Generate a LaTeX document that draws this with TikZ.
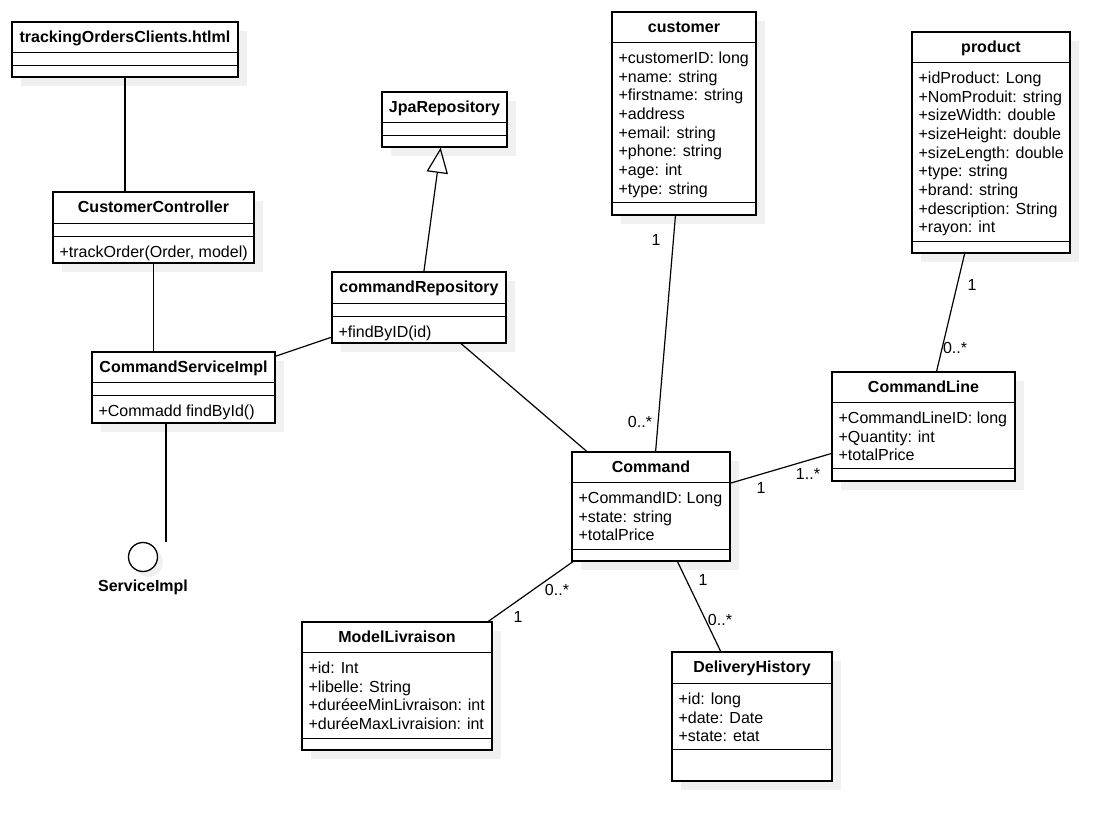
\documentclass[tikz,border=0pt]{standalone}
\usepackage{fontspec}
\setmainfont{Liberation Sans}
\usepackage{tikz}
\usetikzlibrary{positioning}
\usetikzlibrary{arrows.meta, shadows, calc}

\tikzset{
    classbox/.style={draw, fill=white, line width=1pt, inner sep=0pt,
        drop shadow={shadow xshift=6.5pt, shadow yshift=-6.5pt, opacity=1, fill=black!6}},
    classtitle/.style={font=\fontsize{12}{14}\selectfont\bfseries, inner sep=0pt},
    members/.style={font=\fontsize{12}{14}\selectfont, align=left, inner sep=0pt},
    mult/.style={font=\fontsize{12}{14}\selectfont, inner sep=0pt},
    assoc/.style={line width=0.9pt},
}

% name, left, top, width, title part, attribute part, operation part, title
\newcommand{\umlclass}[8]{%
    \node[classbox, minimum width=#4*0.75pt, minimum height=(#5+#6+#7)*0.75pt]
        (#1) at (#2+#4/2, #3+#5/2+#6/2+#7/2) {};
    \draw[line width=1pt] (#1.north west) ++(0,#5) coordinate (#1-a) -- ++(#4,0);
    \draw[line width=1pt] (#1-a) ++(0,#6) coordinate (#1-b) -- ++(#4,0);
    \path (#1.north) ++(0,#5/2+5.5) node[classtitle, anchor=base] (#1-title) {#8};
}

\begin{document}
\begin{tikzpicture}[x=0.75pt, y=-0.75pt]
        \path[fill=white, use as bounding box] (0,0) rectangle (1118,831);

        % classes
        \umlclass{trackingOrders}{12}{22}{226}{31}{13}{11}{trackingOrdersClients.htlml}
        \umlclass{CustomerController}{53}{192}{201}{32}{13}{26}{CustomerController}
        \node[members, below right=7pt and 5.25pt of CustomerController-b] (CustomerController-ops) {+trackOrder(Order, model)};

        \umlclass{JpaRepository}{382}{92}{125}{31}{13}{11}{JpaRepository}
        \umlclass{commandRepository}{332}{272}{174}{32}{13}{26}{commandRepository}
        \node[members, below right=7pt and 5.25pt of commandRepository-b] (commandRepository-ops) {+findByID(id)};

        \umlclass{CommandServiceImpl}{92}{352}{183}{31}{13}{27}{CommandServiceImpl}
        \node[members, below right=7pt and 5.25pt of CommandServiceImpl-b] (CommandServiceImpl-ops) {+Commadd findById()};

        \umlclass{customer}{612}{12}{144}{31}{160}{12}{customer}
        \node[members, below right=7pt and 5.25pt of customer-a] (customer-attr) {+customerID: long\\+name: string\\+firstname: string\\+address\\+email: string\\+phone: string\\+age: int\\+type: string};

        \umlclass{product}{912}{32}{158}{31}{179}{11}{product}
        \node[members, below right=7pt and 5.25pt of product-a] (product-attr) {+idProduct: Long\\+NomProduit: string\\+sizeWidth: double\\+sizeHeight: double\\+sizeLength: double\\+type: string\\+brand: string\\+description: String\\+rayon: int};

        \umlclass{CommandLine}{832}{372}{183}{31}{66}{12}{CommandLine}
        \node[members, below right=7pt and 5.25pt of CommandLine-a] (CommandLine-attr) {+CommandLineID: long\\+Quantity: int\\+totalPrice};

        \umlclass{Command}{572}{452}{158}{31}{67}{11}{Command}
        \node[members, below right=7pt and 5.25pt of Command-a] (Command-attr) {+CommandID: Long\\+state: string\\+totalPrice};

        \umlclass{ModelLivraison}{302}{622}{190}{31}{86}{11}{ModelLivraison}
        \node[members, below right=7pt and 5.25pt of ModelLivraison-a] (ModelLivraison-attr) {+id: Int\\+libelle: String\\+duréeeMinLivraison: int\\+duréeMaxLivraision: int};

        \umlclass{DeliveryHistory}{672}{652}{160}{32}{66}{31}{DeliveryHistory}
        \node[members, below right=7pt and 5.25pt of DeliveryHistory-a] (DeliveryHistory-attr) {+id: long\\+date: Date\\+state: etat};

        % interface
        \node[circle, draw, fill=white, line width=1pt, minimum size=29*0.75pt, inner sep=0pt,
            drop shadow={shadow xshift=4pt, shadow yshift=-4pt, opacity=1, fill=black!6}] (ServiceImpl) at (143,557) {};
        \node[classtitle] (ServiceImpl-label) at (143,587) {ServiceImpl};
        \coordinate (lolli) at (166,542);

        % connectors
        \draw[assoc] (trackingOrders.south) -- (trackingOrders.south |- CustomerController.north);
        \draw[assoc] (CustomerController.south) -- (CustomerController.south |- CommandServiceImpl.north);
        \draw[assoc] (CommandServiceImpl.south -| lolli) -- (lolli);
        \draw[assoc] (CommandServiceImpl) -- (commandRepository);
        \draw[assoc] (commandRepository) -- (Command);
        \draw[assoc, -{Triangle[open, length=19pt, width=16pt]}] (commandRepository) -- (JpaRepository);
        \draw[assoc] (customer) -- (Command);
        \draw[assoc] (product) -- (CommandLine);
        \draw[assoc] (Command) -- (CommandLine);
        \draw[assoc] (Command) -- (ModelLivraison);
        \draw[assoc] (Command) -- (DeliveryHistory);

        % multiplicities
        \node[mult] (m-customer) at (656,240) {1};
        \node[mult] (m-command-c) at (640,422) {0..*};
        \node[mult] (m-product) at (972,285) {1};
        \node[mult] (m-line-p) at (955,348) {0..*};
        \node[mult] (m-command-l) at (761,488) {1};
        \node[mult] (m-line-c) at (808,474) {1..*};
        \node[mult] (m-command-m) at (557,590) {0..*};
        \node[mult] (m-model) at (518,617) {1};
        \node[mult] (m-command-d) at (703,580) {1};
        \node[mult] (m-delivery) at (720,620) {0..*};
\end{tikzpicture}
\end{document}
